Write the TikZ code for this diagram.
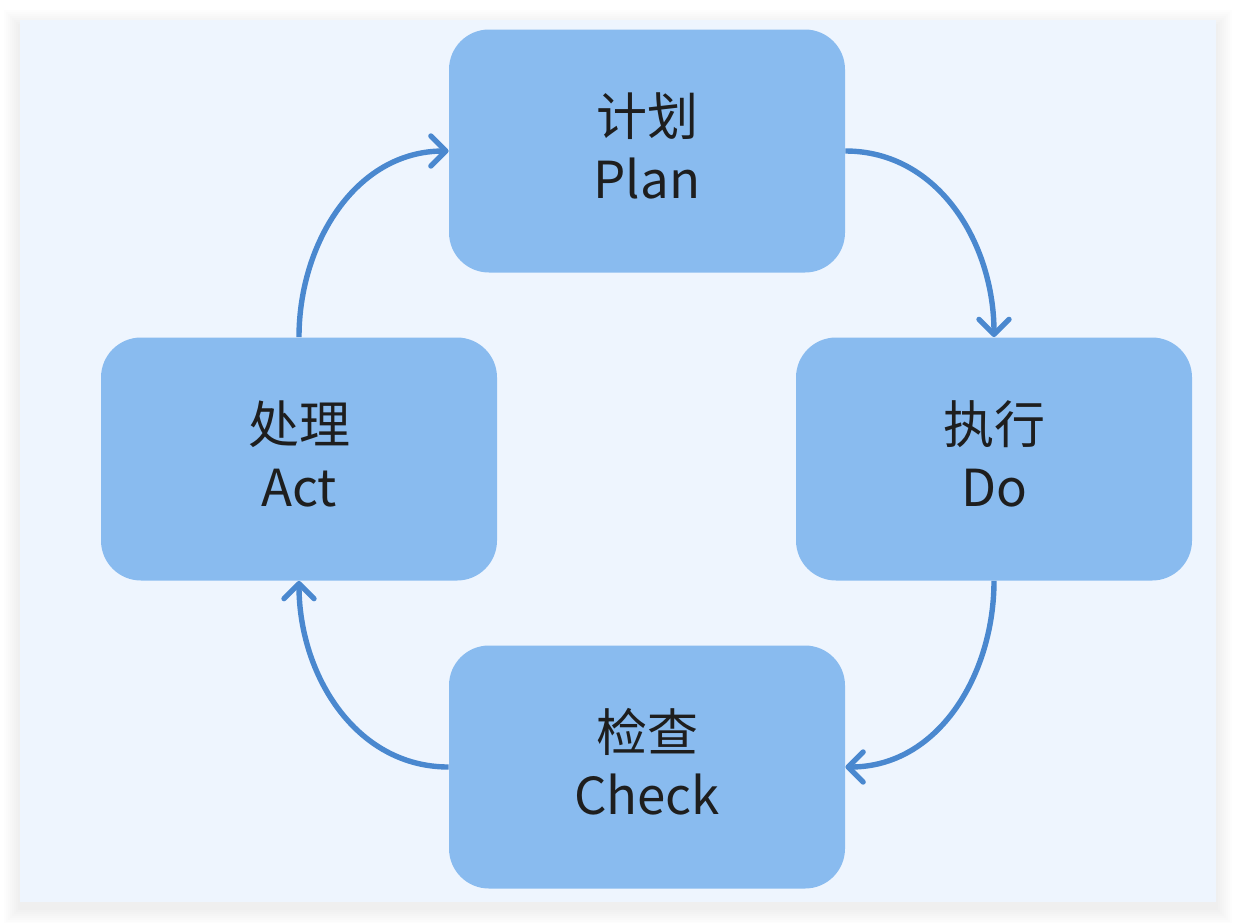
\documentclass[tikz,border=0pt]{standalone}
\usepackage{fontspec}
\newfontfamily\cjk{Noto Sans CJK SC}
\usetikzlibrary{arrows.meta}
\definecolor{panelbg}{HTML}{EEF5FE}
\definecolor{boxfill}{HTML}{89BBEF}
\definecolor{flowblue}{HTML}{4A88CF}
\definecolor{textdark}{HTML}{1E1E1E}
\begin{document}
\begin{tikzpicture}[x=0.5pt, y=-0.5pt,
	stage/.style={fill=boxfill, rounded corners=20pt, minimum width=198pt, minimum height=121.5pt, align=center, text depth=5.5pt, text=textdark, font=\cjk\fontsize{25.5}{31.5}\selectfont},
	flow/.style={draw=flowblue, line width=2.7pt, -{Straight Barb[round, length=7.5pt, width=15pt]}}]
	\useasboundingbox (0,0) rectangle (1236,922);
	
	% panel with soft shadow
	\foreach \g in {2,4,...,16}
	{
		\fill[black, opacity=0.007] (20-\g,20-\g+6) rectangle (1216+\g,902+\g+6);
	}
	\fill[panelbg] (20,20) rectangle (1216,902);
	
	\foreach \n/\x/\y/\zh/\en in {plan/647/151/计划/Plan, do/994/459/执行/Do, check/647/767/检查/Check, act/299/459/处理/Act}
	{
		\node[stage] (\n) at (\x,\y) {\zh\\\en};
	}
	
	\draw[flow] (plan.east) to[out=0, in=90] (do.north);
	\draw[flow] (do.south) to[out=-90, in=0] (check.east);
	\draw[flow] (check.west) to[out=180, in=-90] (act.south);
	\draw[flow] (act.north) to[out=90, in=180] (plan.west);
	
\end{tikzpicture}
\end{document}
